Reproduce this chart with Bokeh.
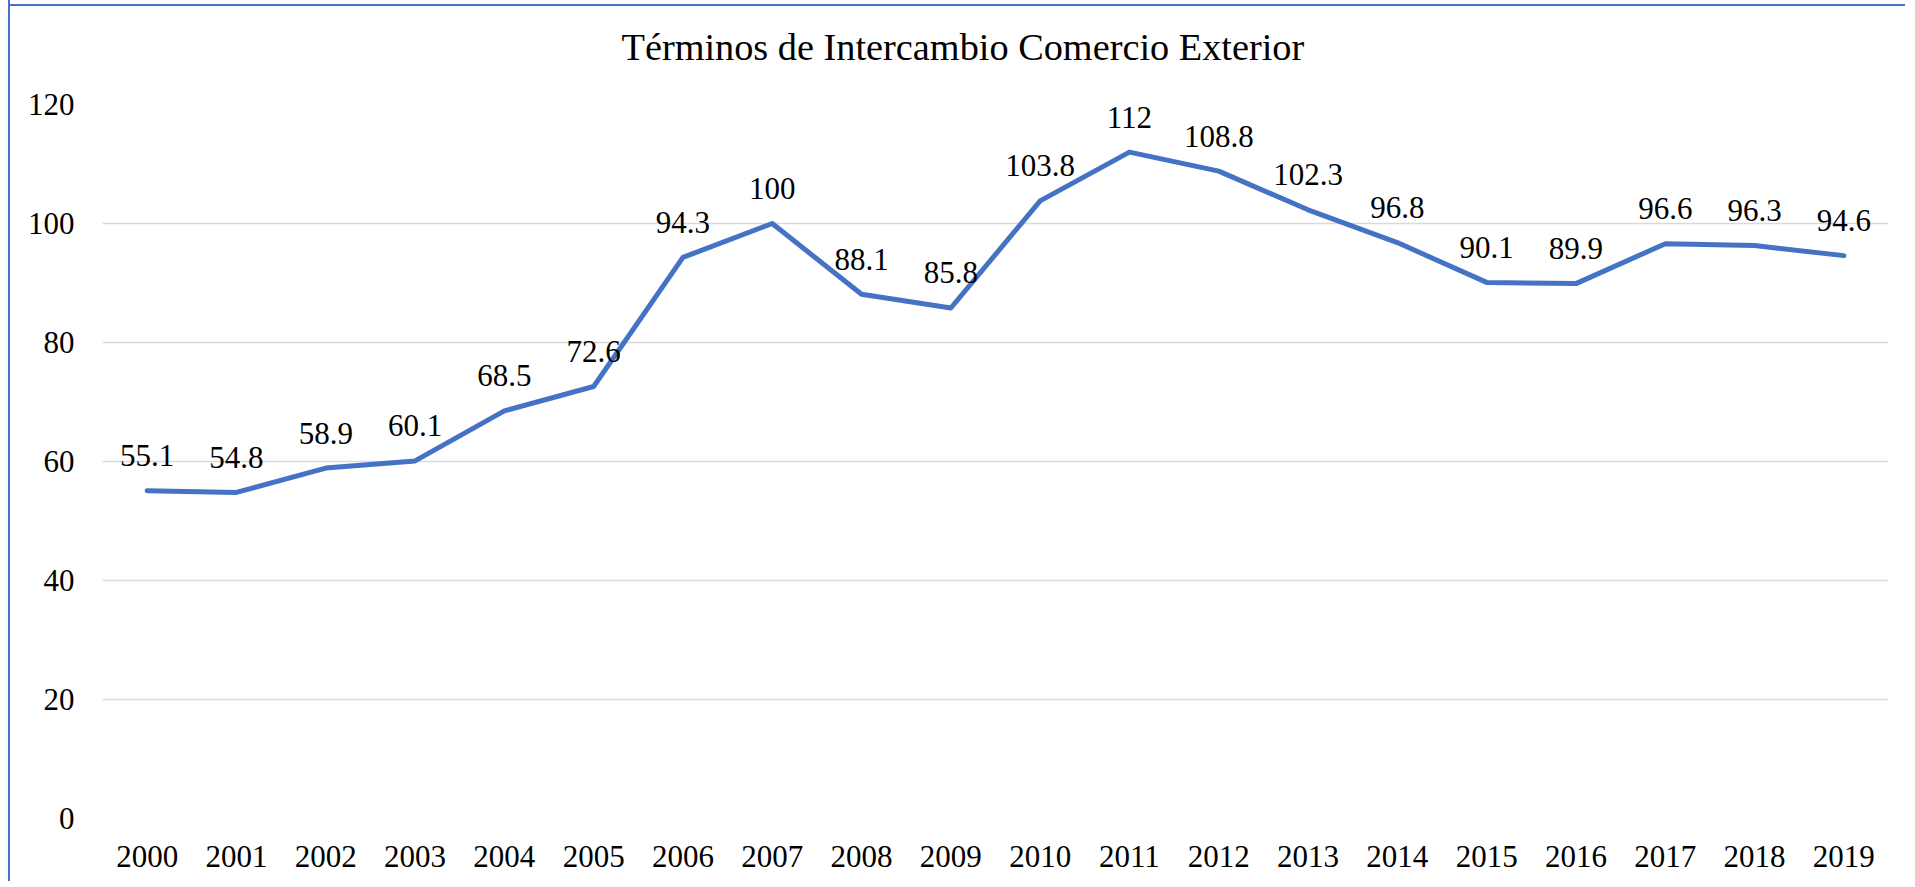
from bokeh.plotting import figure
from bokeh.models import FactorRange, Range1d, FixedTicker, ColumnDataSource
from bokeh.core.properties import value
from bokeh.embed import file_html
from bokeh.resources import INLINE

# ---- data ----
years = ["2000", "2001", "2002", "2003", "2004", "2005", "2006", "2007", "2008", "2009",
         "2010", "2011", "2012", "2013", "2014", "2015", "2016", "2017", "2018", "2019"]
values = [55.1, 54.8, 58.9, 60.1, 68.5, 72.6, 94.3, 100, 88.1, 85.8,
          103.8, 112, 108.8, 102.3, 96.8, 90.1, 89.9, 96.6, 96.3, 94.6]
value_labels = ["55.1", "54.8", "58.9", "60.1", "68.5", "72.6", "94.3", "100", "88.1", "85.8",
                "103.8", "112", "108.8", "102.3", "96.8", "90.1", "89.9", "96.6", "96.3", "94.6"]
y_ticks = [0, 20, 40, 60, 80, 100, 120]
title_text = "Términos de Intercambio Comercio Exterior"

FONT = "Liberation Serif"
BLUE = "#4472C4"

src = ColumnDataSource(dict(year=years, val=values, lab=value_labels))

TOP = 130  # top border of the canvas (title panel sits inside it, next to the plot area)

p = figure(
    x_range=FactorRange(*years),
    y_range=Range1d(0, 120),
    width=1897, height=TOP + 714 + 63,
    output_backend="svg",
    toolbar_location=None,
    min_border_left=92, min_border_right=19,
    min_border_top=TOP, min_border_bottom=63,
    title=title_text,
)
shift = 104 - TOP
p.styles = {
    "border-left": "2px solid #4472C4",
    "margin-left": "8px",
    "margin-top": f"{shift}px",
    "background": f"linear-gradient(#4472C4, #4472C4) 0 {4 - shift}px / 100% 2px no-repeat, #ffffff",
}

xax = p.below[0]
yax = p.left[0]

p.outline_line_color = None
p.background_fill_color = "white"
p.border_fill_color = None

p.xgrid.grid_line_color = None
p.ygrid.grid_line_color = "#D9D9D9"
p.ygrid.grid_line_width = 1.5

yax.ticker = FixedTicker(ticks=y_ticks)
for ax in (xax, yax):
    ax.axis_line_color = None
    ax.major_tick_line_color = None
    ax.minor_tick_line_color = None
    ax.major_tick_in = 0
    ax.major_tick_out = 0
    ax.major_label_text_font = FONT
    ax.major_label_text_font_size = "31px"
    ax.major_label_text_color = "black"
yax.major_label_standoff = 28
xax.major_label_standoff = 27

p.title.align = "left"
p.title.offset = 519
p.title.standoff = 74
p.title.text_font = FONT
p.title.text_font_size = "38.3px"
p.title.text_font_style = "normal"
p.title.text_color = "black"

p.line(x="year", y="val", source=src, line_color=BLUE, line_width=5,
       line_cap="round", line_join="round")
p.text(x="year", y="val", text="lab", source=src, text_font=value(FONT),
       text_font_size="31px", text_align="center", text_baseline="alphabetic",
       y_offset=-35, text_color="black")

open("out.html", "w").write(file_html(p, INLINE))
